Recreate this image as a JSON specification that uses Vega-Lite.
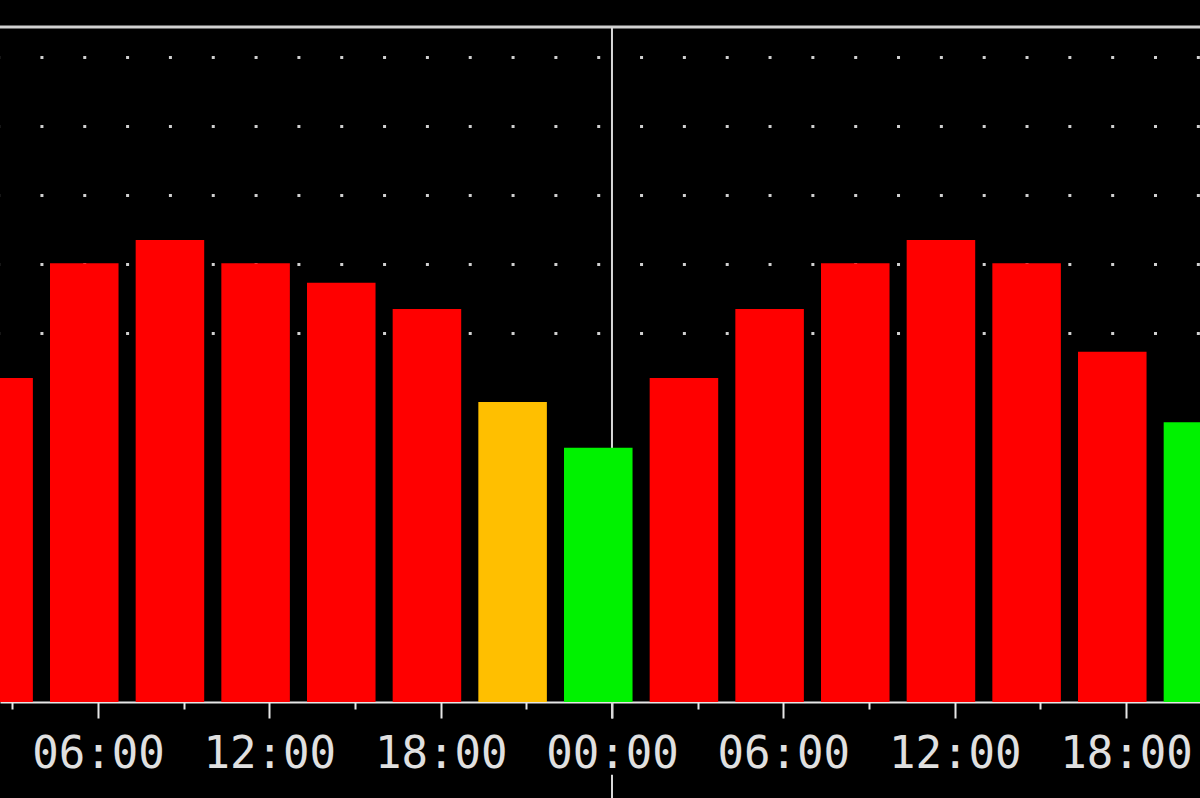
{
  "$schema": "https://vega.github.io/schema/vega-lite/v6.json",
  "width": 1200,
  "height": 675,
  "autosize": {"type": "none"},
  "padding": {"top": 27, "bottom": 96, "left": 0, "right": 0},
  "background": "#000000",
  "config": {"view": {"stroke": null}},
  "layer": [
    {
      "data": {"values": [{}]},
      "mark": {"type": "rule", "color": "#d0d0d0", "strokeWidth": 3},
      "encoding": {"y": {"datum": 9, "type": "quantitative"}}
    },
    {
      "data": {"values": [{}]},
      "mark": {"type": "rule", "color": "#d8d8d8", "strokeWidth": 2},
      "encoding": {
        "x": {"datum": 24, "type": "quantitative"},
        "y": {"datum": 9, "type": "quantitative"},
        "y2": {"datum": -0.22}
      }
    },
    {
      "data": {"values": [{}]},
      "mark": {"type": "rule", "color": "#d8d8d8", "strokeWidth": 2},
      "encoding": {
        "x": {"datum": 24, "type": "quantitative"},
        "y": {"datum": -0.97, "type": "quantitative"},
        "y2": {"datum": -1.3}
      }
    },
    {
      "data": {
        "values": [
          {"start": 1.32, "end": 3.72, "kp": 4.32, "level": "storm"},
          {"start": 4.32, "end": 6.72, "kp": 5.85, "level": "storm"},
          {"start": 7.32, "end": 9.72, "kp": 6.16, "level": "storm"},
          {"start": 10.32, "end": 12.72, "kp": 5.85, "level": "storm"},
          {"start": 13.32, "end": 15.72, "kp": 5.59, "level": "storm"},
          {"start": 16.32, "end": 18.72, "kp": 5.24, "level": "storm"},
          {"start": 19.32, "end": 21.72, "kp": 4.0, "level": "active"},
          {"start": 22.32, "end": 24.72, "kp": 3.39, "level": "quiet"},
          {"start": 25.32, "end": 27.72, "kp": 4.32, "level": "storm"},
          {"start": 28.32, "end": 30.72, "kp": 5.24, "level": "storm"},
          {"start": 31.32, "end": 33.72, "kp": 5.85, "level": "storm"},
          {"start": 34.32, "end": 36.72, "kp": 6.16, "level": "storm"},
          {"start": 37.32, "end": 39.72, "kp": 5.85, "level": "storm"},
          {"start": 40.32, "end": 42.72, "kp": 4.67, "level": "storm"},
          {"start": 43.32, "end": 45.72, "kp": 3.73, "level": "quiet"}
        ]
      },
      "mark": {"type": "bar", "clip": true},
      "encoding": {
        "x": {
          "field": "start",
          "type": "quantitative",
          "scale": {"domain": [2.569, 44.592], "nice": false, "zero": false},
          "axis": {
            "title": null,
            "values": [3, 6, 9, 12, 15, 18, 21, 24, 27, 30, 33, 36, 39, 42],
            "grid": false,
            "domain": true,
            "domainColor": "#e6e6e6",
            "domainWidth": 2,
            "tickColor": "#e6e6e6",
            "tickWidth": 2,
            "tickSize": {"condition": {"test": "datum.value % 6 === 0", "value": 16}, "value": 7},
            "labelExpr": "datum.value % 6 === 0 ? ((datum.value % 24 < 10 ? '0' : '') + (datum.value % 24) + ':00') : ''",
            "labelFont": "DejaVu Sans Mono",
            "labelFontSize": 44,
            "labelColor": "#e0e0e0",
            "labelPadding": 14,
            "labelOverlap": false,
            "labelBound": false,
            "labelFlush": false
          }
        },
        "x2": {"field": "end"},
        "y": {
          "field": "kp",
          "type": "quantitative",
          "scale": {"domain": [0, 9], "nice": false},
          "axis": {
            "title": null,
            "labels": false,
            "ticks": false,
            "domain": false,
            "grid": true,
            "values": [4.92, 5.84, 6.76, 7.68, 8.6],
            "gridColor": "#d0d0d0",
            "gridWidth": 3,
            "gridDash": [3, 39.83],
            "gridDashOffset": 2.9
          }
        },
        "y2": {"datum": 0},
        "color": {
          "field": "level",
          "type": "nominal",
          "scale": {"domain": ["quiet", "active", "storm"], "range": ["#00f200", "#ffbf00", "#ff0000"]},
          "legend": null
        }
      }
    }
  ]
}
